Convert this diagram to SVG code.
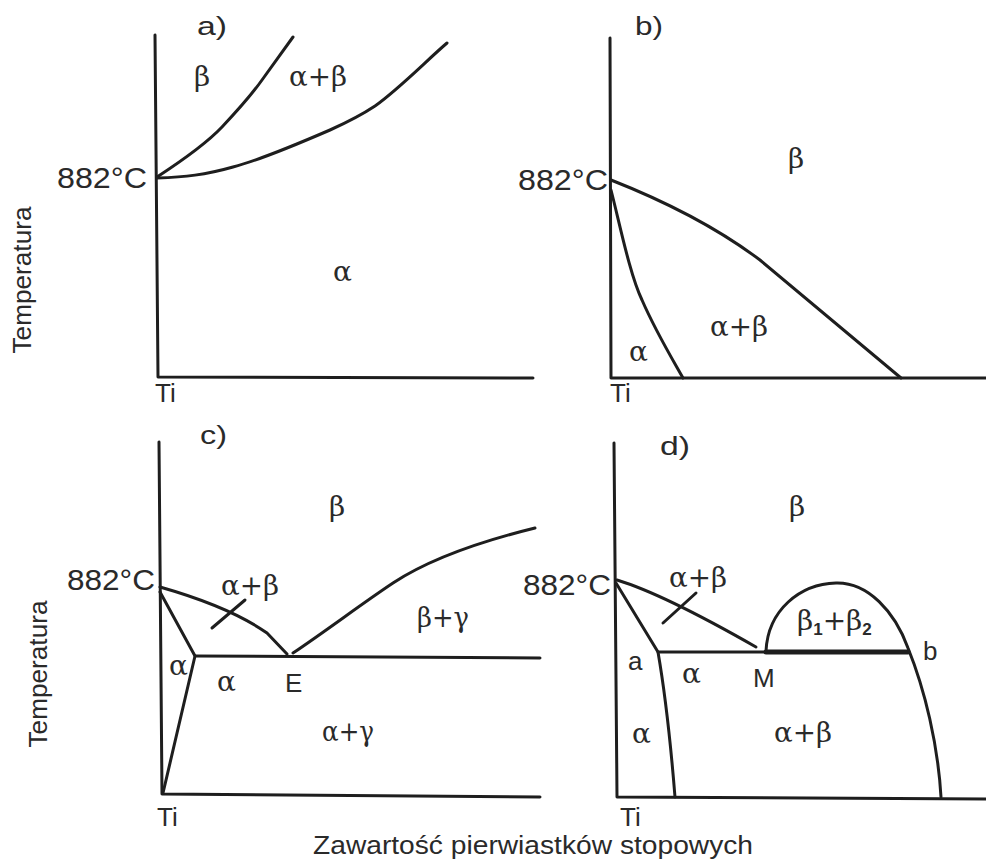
<svg xmlns="http://www.w3.org/2000/svg" width="986" height="859" viewBox="0 0 986 859">
<style>
.ln{fill:none;stroke:#1e1e1e;stroke-width:3;stroke-linecap:round;stroke-linejoin:round}
.bold{stroke-width:5}
.s{font-family:"Liberation Sans",Arial,sans-serif;fill:#2a2a2a}
.g{font-family:"DejaVu Serif","Liberation Serif",serif;font-size:28px;fill:#2a2a2a}
.lab{font-size:26px}
.t{font-size:30px}
.ax{font-size:25px}
.sub{font-family:"Liberation Sans",Arial,sans-serif;font-weight:bold;font-size:17px}
</style>
<rect width="986" height="859" fill="#fff"/>

<g id="panel-a">
  <path class="ln" d="M155,35 L158,377 L533,378"/>
  <path class="ln" d="M157,177 C180,162 205,145 222,127 C238,110 250,97 262,80 L293,37"/>
  <path class="ln" d="M157,178 C185,177 205,175 233,167 C260,160 300,143 330,130 C350,121 360,116 375,106 C400,88 425,62 447,43"/>
  <text class="s lab" x="197" y="35" textLength="30" lengthAdjust="spacingAndGlyphs">a)</text>
  <text class="g" x="194" y="86">β</text>
  <text class="g" x="289" y="86" textLength="58" lengthAdjust="spacingAndGlyphs">α+β</text>
  <text class="s t" x="57" y="188" textLength="90" lengthAdjust="spacingAndGlyphs">882°C</text>
  <text class="g" x="333" y="281">α</text>
  <text class="s lab" x="155" y="402">Ti</text>
  <text class="s ax" transform="translate(31,280) rotate(-90)" text-anchor="middle" textLength="147" lengthAdjust="spacingAndGlyphs">Temperatura</text>
</g>

<g id="panel-b">
  <path class="ln" d="M610,38 L611,378 L986,378"/>
  <path class="ln" d="M611,180 Q700,215 760,260 L901,378"/>
  <path class="ln" d="M611,190 C620,225 630,275 642,300 C655,330 670,355 683,378"/>
  <text class="s lab" x="635" y="35" textLength="28" lengthAdjust="spacingAndGlyphs">b)</text>
  <text class="s t" x="518" y="190" textLength="90" lengthAdjust="spacingAndGlyphs">882°C</text>
  <text class="g" x="788" y="168">β</text>
  <text class="g" x="710" y="336" textLength="58" lengthAdjust="spacingAndGlyphs">α+β</text>
  <text class="g" x="629" y="361">α</text>
  <text class="s lab" x="610" y="402">Ti</text>
</g>

<g id="panel-c">
  <path class="ln" d="M159,442 L162,794 L540,797"/>
  <path class="ln" d="M195,656 L540,658"/>
  <path class="ln" d="M160,587 Q230,607 267,633 L287,654"/>
  <path class="ln" d="M160,592 L195,656 Q185,700 163,793"/>
  <path class="ln" d="M212,628 L245,600"/>
  <path class="ln" d="M293,653 C330,628 360,605 393,583 C425,562 470,544 535,528"/>
  <text class="s lab" x="200" y="444" textLength="27" lengthAdjust="spacingAndGlyphs">c)</text>
  <text class="s t" x="67" y="590" textLength="88" lengthAdjust="spacingAndGlyphs">882°C</text>
  <text class="g" x="329" y="516">β</text>
  <text class="g" x="221" y="595" textLength="58" lengthAdjust="spacingAndGlyphs">α+β</text>
  <text class="g" x="417" y="627" textLength="52" lengthAdjust="spacingAndGlyphs">β+γ</text>
  <text class="g" x="169" y="675">α</text>
  <text class="g" x="217" y="691">α</text>
  <text class="s lab" x="285" y="692">E</text>
  <text class="g" x="322" y="741" textLength="52" lengthAdjust="spacingAndGlyphs">α+γ</text>
  <text class="s lab" x="157" y="826">Ti</text>
  <text class="s ax" transform="translate(47,674) rotate(-90)" text-anchor="middle" textLength="147" lengthAdjust="spacingAndGlyphs">Temperatura</text>
</g>

<g id="panel-d">
  <path class="ln" d="M614,443 L617,797 L986,799"/>
  <path class="ln" d="M617,580 C650,590 700,615 756,647"/>
  <path class="ln" d="M616,583 L658,652 Q668,710 675,797"/>
  <path class="ln" d="M658,652 L766,652"/>
  <path class="ln bold" d="M766,652 L908,652"/>
  <path class="ln" d="M663,623 L696,593"/>
  <path class="ln" d="M766,651 C768,610 800,584 836,583 C868,582 895,612 908,648 C925,690 938,745 941,797"/>
  <text class="s lab" x="660" y="455" textLength="30" lengthAdjust="spacingAndGlyphs">d)</text>
  <text class="s t" x="523" y="595" textLength="88" lengthAdjust="spacingAndGlyphs">882°C</text>
  <text class="g" x="789" y="516">β</text>
  <text class="g" x="669" y="587" textLength="58" lengthAdjust="spacingAndGlyphs">α+β</text>
  <text class="g" x="797" y="630">β<tspan class="sub" dy="5">1</tspan><tspan dy="-5">+β</tspan><tspan class="sub" dy="5">2</tspan></text>
  <text class="s lab" x="923" y="660">b</text>
  <text class="s lab" x="628" y="670">a</text>
  <text class="g" x="682" y="683">α</text>
  <text class="s lab" x="753" y="687">M</text>
  <text class="g" x="632" y="743">α</text>
  <text class="g" x="774" y="742" textLength="58" lengthAdjust="spacingAndGlyphs">α+β</text>
  <text class="s lab" x="620" y="826">Ti</text>
</g>

<g id="caption">
  <text class="s ax" x="313" y="854" textLength="440" lengthAdjust="spacingAndGlyphs">Zawartość pierwiastków stopowych</text>
</g>
<g id="connectors"></g>
</svg>
